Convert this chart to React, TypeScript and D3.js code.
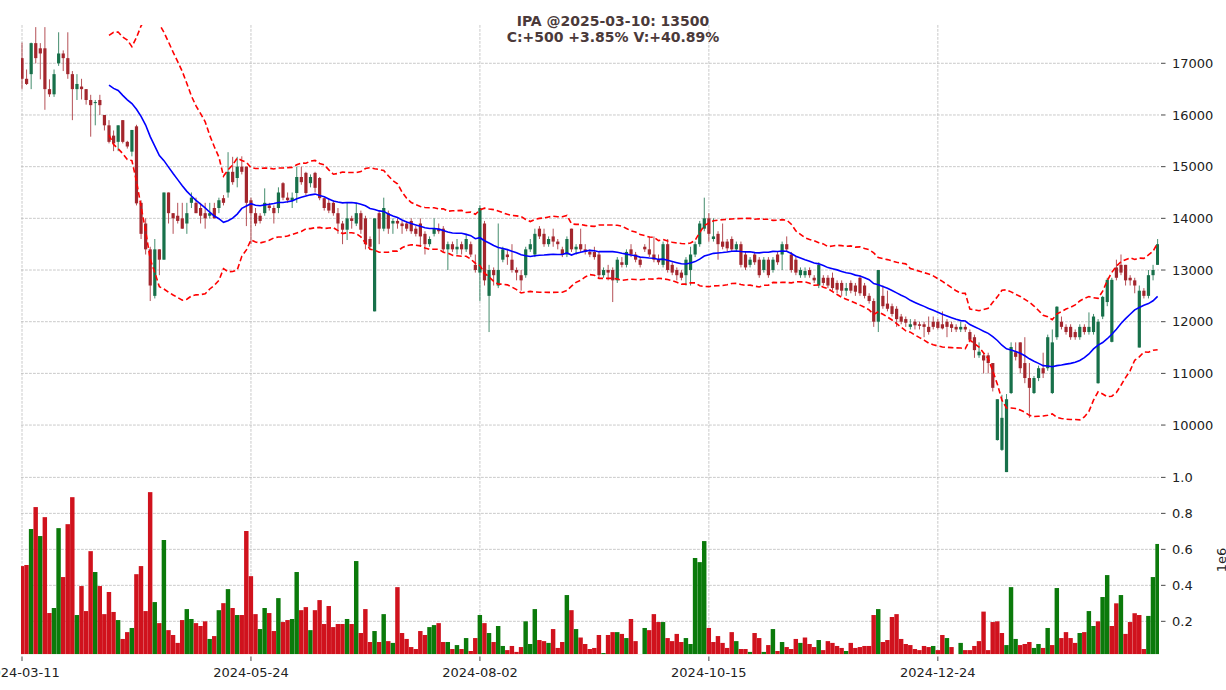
import React, { useEffect, useRef } from 'react';
import * as d3 from 'd3';

// daily candles, 2024-03-11 .. 2025-03-10
const opens = [
  17100, 16700, 16790, 17390, 17290, 17290, 16500, 16400, 17000, 17190,
  17100, 16790, 16500, 16550, 16500, 16290, 16230, 16290, 16000, 15800,
  15600, 15480, 15900, 15480, 15290, 15780, 14300, 13900, 13400, 12500,
  13400, 13200, 14500, 14100, 14050, 14000, 13900, 14300, 14300, 14200,
  14100, 14050, 14200, 14200, 14390, 14500, 14900, 14780, 15000, 15000,
  14350, 14100, 14050, 14100, 14250, 14200, 14200, 14680, 14400, 14350,
  14490, 14800, 14880, 14680, 14880, 14780, 14390, 14300, 14300, 14100,
  13900, 13780, 14000, 13900, 14100, 14000, 13600, 12200, 14100, 13800,
  14100, 13900, 13950, 13900, 13900, 13950, 13800, 13900, 13700, 13500,
  13700, 13800, 13800, 13400, 13500, 13400, 13500, 13400, 13500, 13100,
  12950, 13900, 12500, 13000, 12700, 13200, 13300, 13200, 13000, 12900,
  12900, 13400, 13300, 13800, 13700, 13500, 13650, 13550, 13400, 13300,
  13800, 13400, 13500, 13400, 13350, 13350, 13300, 12900, 13000, 13000,
  12800, 13150, 13100, 13400, 13300, 13200, 13450, 13400, 13300, 13200,
  13100, 13500, 13100, 13000, 12950, 12900, 13000, 13300, 13500, 13800,
  14000, 13600, 13700, 13550, 13550, 13600, 13400, 13500, 13300, 13100,
  13300, 13200, 13000, 13200, 13000, 13300, 13300, 13500, 13300, 13200,
  12900, 12900, 13000, 12850, 12700, 12850, 12850, 12850, 12750, 12750,
  12600, 12750, 12700, 12850, 12700, 12500, 12400, 12000, 12500, 12350,
  12300, 12250, 12100, 12050, 11900, 12000, 11950, 11950, 11900, 12000,
  12000, 11950, 12000, 11950, 11900, 11850, 11900, 11800, 11700, 11350,
  11350, 11350, 11200, 9710, 9520, 9090, 10620, 11410, 11600, 11200,
  10910, 10620, 10910, 11100, 11100, 10620, 11700, 12000, 11900, 11900,
  11800, 11700, 11900, 11800, 11800, 10810, 12100, 12380, 11610, 13050,
  13100, 13100, 12850, 12800, 11500, 12600, 12500, 12900, 13100,
];

const highs = [
  17400, 16880, 17400, 17700, 17390, 17700, 16690, 16880, 17600, 17250,
  17600, 16850, 16790, 16700, 16500, 16390, 16290, 16390, 16000, 15900,
  15700, 15800, 15900, 15500, 15710, 15810, 14350, 14000, 13450, 13600,
  13400, 14500, 14500, 14100, 14300, 14300, 14300, 14500, 14400, 14300,
  14300, 14300, 14300, 14400, 14450, 15280, 15190, 15190, 15200, 15000,
  14400, 14200, 14100, 14580, 14300, 14250, 14600, 14700, 14500, 14500,
  15000, 15000, 14900, 14850, 14900, 14800, 14400, 14390, 14350, 14200,
  13950, 14300, 14050, 14300, 14150, 14050, 13650, 14000, 14150, 14400,
  14150, 14000, 14000, 13950, 13950, 14000, 13850, 14000, 13750, 13650,
  14000, 13900, 13850, 13550, 13550, 13600, 13550, 13700, 13550, 13300,
  14250, 13950, 13100, 13050, 13900, 13450, 13400, 13500, 13050, 13000,
  13450, 13600, 13800, 13850, 13800, 13650, 13800, 13600, 13450, 13650,
  13800, 13500, 13800, 13500, 13400, 13450, 13350, 13050, 13100, 13050,
  13250, 13250, 13400, 13500, 13350, 13250, 13500, 13650, 13650, 13300,
  13550, 13600, 13150, 13050, 13000, 13250, 13450, 13550, 13950, 14400,
  14100, 14000, 13750, 13900, 13600, 13650, 13550, 13550, 13350, 13250,
  13350, 13250, 13250, 13250, 13250, 13350, 13550, 13650, 13350, 13250,
  13050, 13050, 13050, 12900, 13150, 12900, 12900, 12950, 12800, 12800,
  12750, 12800, 12750, 12900, 12750, 12550, 12450, 13000, 12700, 12600,
  12350, 12300, 12150, 12100, 12050, 12050, 12000, 12000, 12100, 12100,
  12050, 12200, 12050, 12000, 11950, 12000, 11950, 11850, 11750, 11600,
  11400, 11400, 11200, 10500, 10585, 10600, 11600, 11600, 11600, 11700,
  11200, 10950, 11150, 11400, 11750, 11850, 12300, 12100, 11950, 11950,
  11850, 11950, 11950, 12180, 12150, 12050, 12500, 12850, 12850, 13200,
  13300, 13100, 12900, 12850, 12700, 12650, 13000, 13100, 13600,
];

const lows = [
  16500, 16580, 16500, 17000, 16690, 16100, 16350, 16350, 16950, 16850,
  16700, 15900, 16290, 16300, 16200, 15580, 15800, 16000, 15700, 15450,
  15300, 15300, 15450, 15350, 15200, 14250, 13600, 13300, 12400, 12450,
  12900, 13200, 13900, 13700, 13900, 13800, 13700, 14200, 14100, 13900,
  13800, 14000, 14000, 14100, 14250, 14400, 14650, 14600, 14850, 13850,
  13500, 13850, 13900, 14050, 14150, 13900, 14100, 14350, 14300, 14200,
  14300, 14650, 14450, 14600, 14500, 14350, 14150, 14100, 14050, 13700,
  13500, 13580, 13800, 13850, 13700, 13400, 13400, 12200, 13500, 13750,
  13700, 13700, 13800, 13700, 13750, 13700, 13650, 13450, 13300, 13450,
  13650, 13700, 13350, 13000, 13350, 13300, 13300, 13350, 13250, 12950,
  12400, 12700, 11800, 12700, 12650, 13150, 13100, 12950, 12800, 12600,
  12850, 13350, 13250, 13600, 13450, 13450, 13450, 13400, 13250, 13250,
  13350, 13300, 13350, 13300, 13250, 13200, 12850, 12850, 12800, 12380,
  12750, 13050, 13050, 13250, 13150, 13050, 13350, 13250, 13150, 13100,
  13050, 12950, 12900, 12800, 12800, 12700, 12700, 13250, 13450, 13750,
  13550, 13550, 13200, 13400, 13350, 13350, 13350, 13050, 13000, 13050,
  13100, 12850, 12950, 12850, 12950, 13100, 13000, 13350, 12950, 12900,
  12850, 12850, 12850, 12750, 12650, 12700, 12650, 12600, 12550, 12500,
  12500, 12550, 12500, 12500, 12450, 12350, 11900, 11800, 12250, 12200,
  12100, 11900, 11950, 11900, 11850, 11850, 11850, 11700, 11750, 11850,
  11850, 11850, 11700, 11800, 11800, 11800, 11800, 11600, 11300, 11300,
  11000, 11000, 10650, 9700, 9500, 9090, 10600, 11250, 11000, 10810,
  10140, 10600, 10850, 10910, 11050, 10600, 11650, 11850, 11750, 11650,
  11650, 11650, 11750, 11750, 11750, 10800, 12050, 12300, 11600, 12800,
  12900, 12700, 12700, 12550, 11500, 12450, 12450, 12800, 13100,
];

const closes = [
  16700, 16600, 17390, 17100, 17190, 16500, 16400, 16790, 17190, 17100,
  16790, 16500, 16600, 16500, 16290, 16190, 16250, 16190, 15800, 15480,
  15450, 15800, 15480, 15390, 15710, 14290, 13700, 13400, 12700, 13400,
  13200, 14500, 14100, 14000, 13950, 13800, 14100, 14400, 14100, 14050,
  14000, 14100, 14000, 14350, 14300, 14900, 14700, 15000, 14900, 14300,
  14100, 13900, 13950, 14300, 14200, 14100, 14500, 14400, 14350, 14400,
  14800, 14700, 14490, 14800, 14590, 14390, 14200, 14150, 14100, 13900,
  13780, 14000, 13950, 14100, 13780, 13500, 13450, 14000, 13800, 14200,
  13800, 13950, 13900, 13850, 13800, 13750, 13700, 13650, 13500, 13600,
  13800, 13750, 13400, 13500, 13400, 13450, 13400, 13600, 13300, 13000,
  14200, 12800, 13000, 12900, 13000, 13400, 13250, 13000, 12950, 12800,
  13400, 13500, 13700, 13650, 13500, 13600, 13550, 13500, 13300, 13600,
  13400, 13450, 13400, 13350, 13300, 13250, 12900, 13000, 12950, 12800,
  13200, 13100, 13350, 13300, 13200, 13100, 13400, 13300, 13200, 13150,
  13500, 13000, 12950, 12900, 12850, 13200, 13300, 13500, 13900, 14000,
  13700, 13650, 13500, 13450, 13420, 13400, 13500, 13100, 13050, 13200,
  13150, 12900, 13200, 12900, 13200, 13150, 13500, 13400, 13000, 12950,
  13000, 12980, 12900, 12800, 13100, 12750, 12700, 12650, 12620, 12600,
  12650, 12600, 12580, 12550, 12500, 12400, 12000, 13000, 12300, 12250,
  12150, 12050, 12000, 11980, 11950, 11930, 11920, 11900, 11800, 11900,
  11880, 11870, 11900, 11880, 11850, 11900, 11850, 11650, 11450, 11420,
  11250, 11200, 10720, 10500, 10140, 10500, 11510, 11320, 11100, 10910,
  10720, 10910, 11100, 11000, 11700, 11600, 12290, 11900, 11800, 11700,
  11700, 11900, 11800, 11900, 12100, 12000, 12480, 12810, 12810, 12850,
  12950, 12800, 12800, 12700, 12600, 12500, 12900, 13000, 13500,
];

// volume in millions of shares
const volumes = [
  0.507, 0.513, 0.713, 0.835, 0.674, 0.779, 0.246, 0.274, 0.718, 0.446,
  0.74, 0.89, 0.235, 0.396, 0.257, 0.59, 0.474, 0.396, 0.24, 0.363,
  0.252, 0.207, 0.102, 0.14, 0.163, 0.462, 0.507, 0.257, 0.918, 0.307,
  0.19, 0.652, 0.151, 0.124, 0.08, 0.207, 0.268, 0.213, 0.19, 0.174,
  0.2, 0.102, 0.118, 0.262, 0.301, 0.379, 0.274, 0.235, 0.235, 0.702,
  0.451, 0.24, 0.157, 0.274, 0.246, 0.146, 0.329, 0.196, 0.207, 0.213,
  0.474, 0.262, 0.279, 0.151, 0.262, 0.318, 0.185, 0.285, 0.168, 0.185,
  0.185, 0.213, 0.185, 0.535, 0.135, 0.268, 0.085, 0.146, 0.085, 0.24,
  0.09, 0.08, 0.39, 0.135, 0.102, 0.057, 0.046, 0.146, 0.124, 0.168,
  0.179, 0.19, 0.085, 0.085, 0.046, 0.068, 0.046, 0.107, 0.035, 0.107,
  0.235, 0.19, 0.135, 0.085, 0.174, 0.063, 0.04, 0.063, 0.03, 0.057,
  0.2, 0.074, 0.268, 0.096, 0.09, 0.08, 0.157, 0.052, 0.085, 0.346,
  0.262, 0.157, 0.11, 0.074, 0.046, 0.052, 0.124, 0.024, 0.124, 0.14,
  0.14, 0.13, 0.107, 0.213, 0.09, 0.018, 0.163, 0.151, 0.24, 0.196,
  0.196, 0.107, 0.09, 0.13, 0.085, 0.107, 0.074, 0.552, 0.529, 0.646,
  0.163, 0.085, 0.118, 0.08, 0.052, 0.14, 0.09, 0.046, 0.046, 0.03,
  0.135, 0.107, 0.03, 0.068, 0.157, 0.035, 0.085, 0.057, 0.046, 0.102,
  0.08, 0.11, 0.074, 0.057, 0.096, 0.04, 0.09, 0.08, 0.063, 0.052,
  0.035, 0.08, 0.052, 0.057, 0.063, 0.063, 0.235, 0.268, 0.085, 0.096,
  0.224, 0.24, 0.102, 0.074, 0.068, 0.046, 0.04, 0.063, 0.057, 0.063,
  0.04, 0.124, 0.107, 0.057, 0, 0.08, 0.04, 0.04, 0.063, 0.09,
  0.254, 0.04, 0.196, 0.2, 0.135, 0.068, 0.39, 0.102, 0.068, 0.074,
  0.085, 0.052, 0.074, 0.052, 0.163, 0.068, 0.385, 0.107, 0.14, 0.107,
  0.08, 0.135, 0.14, 0.257, 0.174, 0.2, 0.335, 0.457, 0.174, 0.3,
  0.346, 0.13, 0.196, 0.245, 0.235, 0.046, 0.23, 0.446, 0.63,
];

// volume bar colour as seen: u = green, d = red
const volumeDirection = (
  'ddudu dduud ddudd duddd duddu ddddu duddd duudd dudud ududd ' +
  'dduud duddu uddud ddddd dudud ddudu duddd ddddu uddud ududd ' +
  'ududu udddd uuudd udddu duddd ddudd ududd duddd udddd uuuuu ' +
  'ddddd duddu ddudu duddd udddu ddddd udddd ddudd ddddd ddddu ' +
  'ddudd udddd ddddd uuudd duudu duddd duduu duudd udddd duuu'
).replace(/ /g, '');

const dateTickIndex = [0, 50, 100, 150, 200];
const dateTickLabels = ['2024-03-11', '2024-05-24', '2024-08-02', '2024-10-15', '2024-12-24'];
const priceTicks = [10000, 11000, 12000, 13000, 14000, 15000, 16000, 17000];
const volumeTicks = [0.2, 0.4, 0.6, 0.8, 1.0];
const titleLines = ['IPA @2025-03-10: 13500', 'C:+500 +3.85% V:+40.89%'];
const volumeLabel = '1e6';
const bandWindow = 20;
const bandWidth = 2;

const W = 1226;
const H = 690;

export default function App() {
  const svgRef = useRef<SVGSVGElement>(null);

  useEffect(() => {
    if (!svgRef.current) return;
    const svg = d3.select(svgRef.current);
    svg.selectAll('*').remove();

    const n = closes.length;
    const left = 21;
    const right = 1159;
    const priceTop = 25;
    const priceBottom = 475.5;
    const volBottom = 654.3;
    const font = 'DejaVu Sans, Liberation Sans, sans-serif';

    const x = d3.scaleLinear().domain([-0.22, n - 0.7]).range([left, right]);
    const yPrice = d3.scaleLinear().domain([9024, 17741]).range([priceBottom, priceTop]);
    const yVol = d3.scaleLinear().domain([0.0167, 1.0105]).range([volBottom, priceBottom]);
    const step = x(1) - x(0);

    const defs = svg.append('defs');
    defs.append('clipPath').attr('id', 'clip-price')
      .append('rect').attr('x', left).attr('y', priceTop)
      .attr('width', right - left).attr('height', priceBottom - priceTop);
    defs.append('clipPath').attr('id', 'clip-vol')
      .append('rect').attr('x', left).attr('y', priceBottom)
      .attr('width', right - left).attr('height', volBottom - priceBottom);

    svg.append('rect').attr('width', W).attr('height', H).attr('fill', '#fff');

    // grid
    const grid = svg.append('g')
      .attr('stroke', '#bdbdbd')
      .attr('stroke-width', 0.8)
      .attr('stroke-dasharray', '2.8,1.2');
    grid.selectAll('.hp').data(priceTicks).join('line')
      .attr('x1', left).attr('x2', right)
      .attr('y1', d => yPrice(d)).attr('y2', d => yPrice(d));
    grid.selectAll('.hv').data(volumeTicks).join('line')
      .attr('x1', left).attr('x2', right)
      .attr('y1', d => yVol(d)).attr('y2', d => yVol(d));
    grid.selectAll('.vx').data(dateTickIndex).join('line')
      .attr('x1', d => x(d)).attr('x2', d => x(d))
      .attr('y1', priceTop).attr('y2', volBottom);

    // volume bars
    const vol = svg.append('g').attr('clip-path', 'url(#clip-vol)');
    vol.selectAll('rect').data(volumes).join('rect')
      .attr('x', (_, i) => x(i) - step / 2)
      .attr('width', step * 0.97)
      .attr('y', d => yVol(Math.max(d, 0.0167)))
      .attr('height', d => Math.max(0, volBottom - yVol(Math.max(d, 0.0167))))
      .attr('fill', (_, i) => (volumeDirection[i] === 'u' ? '#0b7a0b' : '#d0121d'));

    // candles
    const upCol = '#17704a';
    const downCol = '#a3262d';
    const candles = svg.append('g').attr('clip-path', 'url(#clip-price)');
    const idx = d3.range(n);
    candles.selectAll('line').data(idx).join('line')
      .attr('x1', i => x(i)).attr('x2', i => x(i))
      .attr('y1', i => yPrice(highs[i])).attr('y2', i => yPrice(lows[i]))
      .attr('stroke', i => (closes[i] >= opens[i] ? upCol : downCol))
      .attr('stroke-opacity', 0.8)
      .attr('stroke-width', 1);
    const bodyW = step * 0.7;
    candles.selectAll('rect').data(idx).join('rect')
      .attr('x', i => x(i) - bodyW / 2)
      .attr('width', bodyW)
      .attr('y', i => yPrice(Math.max(opens[i], closes[i])))
      .attr('height', i => Math.max(1, Math.abs(yPrice(opens[i]) - yPrice(closes[i]))))
      .attr('fill', i => (closes[i] >= opens[i] ? upCol : downCol));

    // bollinger bands from the closes
    const bands = d3.range(bandWindow - 1, n).map(i => {
      const w = closes.slice(i - bandWindow + 1, i + 1);
      const m = d3.mean(w) as number;
      const s = d3.deviation(w) as number;
      return { i, mid: m, up: m + bandWidth * s, lo: m - bandWidth * s };
    });
    const lines = svg.append('g').attr('clip-path', 'url(#clip-price)').attr('fill', 'none');
    const lineOf = (key: 'mid' | 'up' | 'lo') =>
      d3.line<{ i: number; mid: number; up: number; lo: number }>()
        .x(d => x(d.i)).y(d => yPrice(d[key]));
    lines.append('path').attr('d', lineOf('up')(bands))
      .attr('stroke', '#ff0000').attr('stroke-width', 1.6).attr('stroke-dasharray', '5.5,3');
    lines.append('path').attr('d', lineOf('lo')(bands))
      .attr('stroke', '#ff0000').attr('stroke-width', 1.6).attr('stroke-dasharray', '5.5,3');
    lines.append('path').attr('d', lineOf('mid')(bands))
      .attr('stroke', '#0000ff').attr('stroke-width', 1.6);

    // right axis ticks and labels
    const axis = svg.append('g').attr('font-family', font).attr('font-size', 13).attr('fill', '#222');
    const yTicks = [
      ...priceTicks.map(v => ({ y: yPrice(v), label: String(v) })),
      ...volumeTicks.map(v => ({ y: yVol(v), label: v.toFixed(1) })),
    ];
    axis.selectAll('line.yt').data(yTicks).join('line')
      .attr('x1', right + 2).attr('x2', right + 6.5)
      .attr('y1', d => d.y).attr('y2', d => d.y)
      .attr('stroke', '#333').attr('stroke-width', 0.9);
    axis.selectAll('text.yl').data(yTicks).join('text')
      .attr('x', right + 13).attr('y', d => d.y)
      .attr('dy', '0.36em')
      .text(d => d.label);

    // bottom date ticks
    axis.selectAll('line.xt').data(dateTickIndex).join('line')
      .attr('x1', d => x(d)).attr('x2', d => x(d))
      .attr('y1', volBottom + 2.2).attr('y2', volBottom + 6.7)
      .attr('stroke', '#333').attr('stroke-width', 0.9);
    axis.selectAll('text.xl').data(dateTickIndex).join('text')
      .attr('x', d => x(d)).attr('y', 677)
      .attr('text-anchor', 'middle')
      .text((_, k) => dateTickLabels[k]);

    // volume axis label
    axis.append('text')
      .attr('transform', `translate(1226,560) rotate(-90)`)
      .attr('text-anchor', 'middle')
      .text(volumeLabel);

    // title
    svg.append('g').attr('font-family', font).attr('font-size', 14)
      .attr('font-weight', 'bold').attr('fill', '#4b3a3a').attr('text-anchor', 'middle')
      .selectAll('text').data(titleLines).join('text')
      .attr('x', W / 2).attr('y', (_, k) => 26 + k * 15.5)
      .text(d => d);
  }, []);

  return (
    <svg
      ref={svgRef}
      width={W}
      height={H}
      style={{ position: 'fixed', left: 0, top: 0, display: 'block' }}
    />
  );
}
